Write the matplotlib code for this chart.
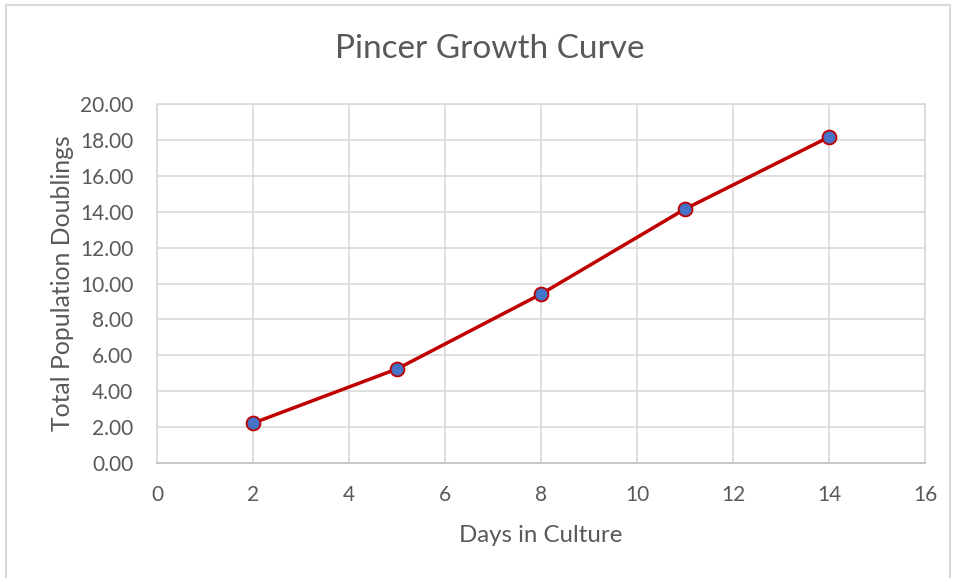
import matplotlib
matplotlib.use("Agg")
import matplotlib.pyplot as plt
from matplotlib.patches import Rectangle

days = [2, 5, 8, 11, 14]
doublings = [2.22, 5.24, 9.41, 14.15, 18.16]
x_ticks = [0, 2, 4, 6, 8, 10, 12, 14, 16]
y_ticks = [0, 2, 4, 6, 8, 10, 12, 14, 16, 18, 20]

plt.rcParams['font.family'] = ['Lato', 'DejaVu Sans']
txt = '#595959'
grid = '#d9d9d9'

fig = plt.figure(figsize=(9.56, 5.78), dpi=100)
fig.patches.append(Rectangle((6/956, -0.01), (950-6)/956, 1 - 5/578 + 0.01,
                             transform=fig.transFigure, fill=False,
                             edgecolor='#d9d9d9', linewidth=1.5))
ax = fig.add_axes([157/956, 1-463/578, (925-157)/956, (463-104)/578])
ax.plot(days, doublings, color='#c00000', linewidth=2.5, marker='o',
        markersize=10, markerfacecolor='#4472c4', markeredgecolor='#c00000',
        markeredgewidth=1.3, zorder=3)
ax.set_xlim(0, 16)
ax.set_ylim(0, 20)
ax.set_xticks(x_ticks)
ax.set_yticks(y_ticks)
ax.set_yticklabels([f"{v:.2f}" for v in y_ticks])
ax.grid(True, color=grid, linewidth=1.2)
ax.set_axisbelow(True)
for s in ['top', 'right', 'left']:
    ax.spines[s].set_color(grid)
    ax.spines[s].set_linewidth(1.2)
ax.spines['bottom'].set_color('#bfbfbf')
ax.spines['bottom'].set_linewidth(1.2)
ax.tick_params(axis='both', length=0, labelsize=15, labelcolor=txt)
ax.tick_params(axis='y', pad=17)
ax.tick_params(axis='x', pad=16)
ax.set_xlabel('Days in Culture', fontsize=17.3, color=txt, labelpad=14)
ax.set_ylabel('Total Population Doublings', fontsize=17.8, color=txt, labelpad=4)
fig.text(490/956, 1 - 49/578, 'Pincer Growth Curve',
         ha='center', va='center', fontsize=24, color=txt)
fig.savefig('out.png', dpi=100)
